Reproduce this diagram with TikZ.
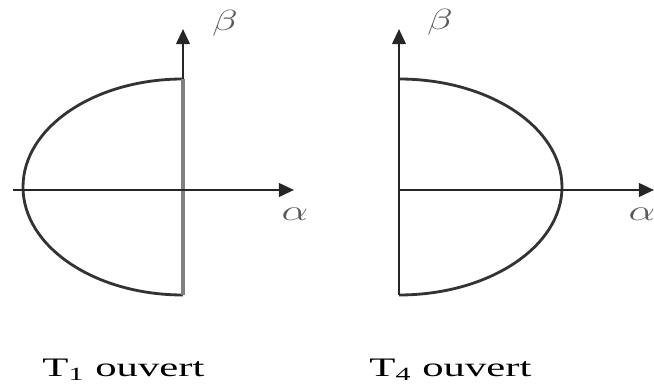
\documentclass[tikz,border=0pt]{standalone}
\usepackage{fontspec}
\setmainfont{Liberation Serif}
\usetikzlibrary{arrows.meta}

\begin{document}
\begin{tikzpicture}[
    x=0.025cm, y=-0.025cm,
    >={Triangle[length=3.8mm,width=3.4mm]},
    axis/.style ={line width=1.8pt, draw=black!85},
    vaxis/.style={line width=2.2pt, draw=black!50},
    locus/.style={line width=2pt, draw=black!80},
    greek/.style={font=\fontsize{21}{24}\selectfont, text=black!65, xscale=1.45},
    caption/.style={font=\fontsize{19}{22}\selectfont, anchor=base west,
                    inner sep=0pt, xscale=1.6},
]
\useasboundingbox (0,0) rectangle (654,385);

% T1 ouvert
\coordinate (oa) at (183,190);
\coordinate (ta) at (183,79);
\coordinate (ba) at (183,295);
\draw[locus] (ta) arc[start angle=-90, end angle=-270, x radius=160, y radius=108];
\draw[vaxis] (ba) -- (ta);
\draw[axis, ->] (13,190) -- (294,190);
\draw[axis, ->] (ta) -- (183,29);
\node[greek] (alphaA) at (295,214) {$\alpha$};
\node[greek] (betaA)  at (225,23)  {$\beta$};
\node[caption] (capA) at (42,377) {T\textsubscript{1} ouvert};

% T4 ouvert
\coordinate (ob) at (399,190);
\coordinate (tb) at (399,79);
\coordinate (bb) at (399,295);
\draw[locus] (tb) arc[start angle=-90, end angle=90, x radius=163, y radius=108];
\draw[axis] (bb) -- (tb);
\draw[axis, ->] (ob) -- (654,190);
\draw[axis, ->] (tb) -- (399,29);
\node[greek] (alphaB) at (642,214) {$\alpha$};
\node[greek] (betaB)  at (440,22)  {$\beta$};
\node[caption] (capB) at (369,377) {T\textsubscript{4} ouvert};
\end{tikzpicture}
\end{document}
